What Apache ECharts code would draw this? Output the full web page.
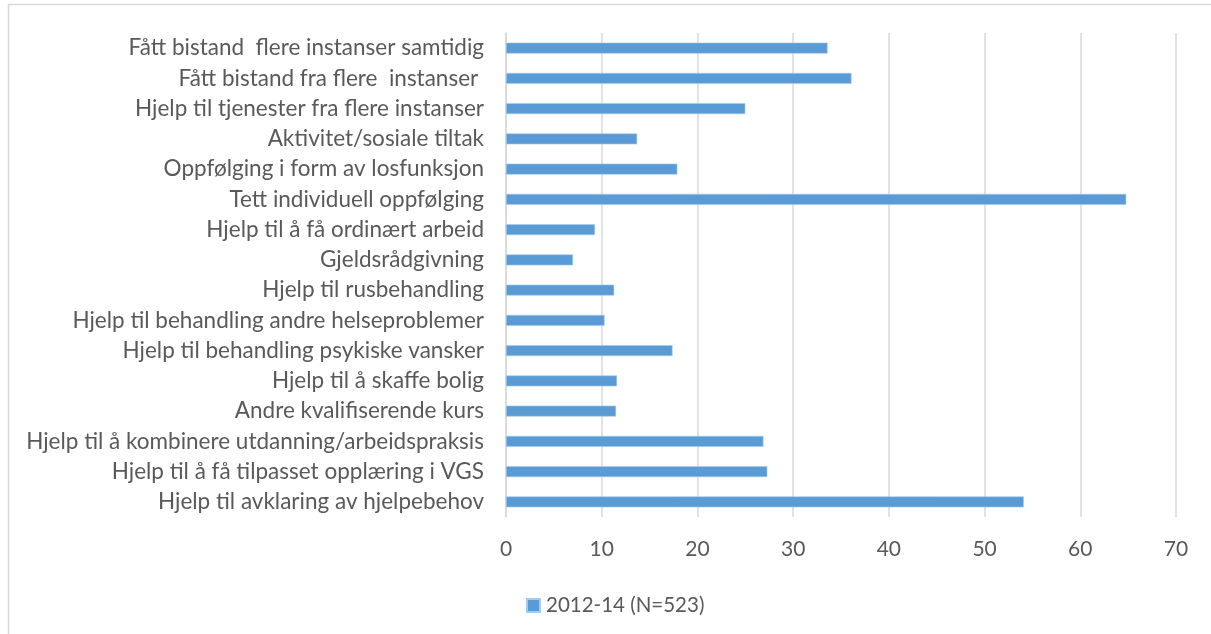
<!DOCTYPE html>
<html>
<head>
<meta charset="utf-8">
<script src="https://cdn.jsdelivr.net/npm/echarts@6/dist/echarts.min.js"></script>
<style>
html,body{margin:0;padding:0;background:#fff;}
#chart{width:1211px;height:634px;}
</style>
</head>
<body>
<div id="chart"></div>
<script>
// Categories listed bottom to top (as the category axis draws them)
const categories = [
  "Hjelp til avklaring av hjelpebehov",
  "Hjelp til å få tilpasset opplæring i VGS",
  "Hjelp til å kombinere utdanning/arbeidspraksis",
  "Andre kvalifiserende kurs",
  "Hjelp til å skaffe bolig",
  "Hjelp til behandling psykiske vansker",
  "Hjelp til behandling andre helseproblemer",
  "Hjelp til rusbehandling",
  "Gjeldsrådgivning",
  "Hjelp til å få ordinært arbeid",
  "Tett individuell oppfølging",
  "Oppfølging i form av losfunksjon",
  "Aktivitet/sosiale tiltak",
  "Hjelp til tjenester fra flere instanser",
  "Fått bistand fra flere  instanser ",
  "Fått bistand  flere instanser samtidig"
];
const seriesName = "2012-14 (N=523)";
const values = [54.1, 27.3, 26.9, 11.5, 11.6, 17.4, 10.3, 11.3, 7.0, 9.3, 64.8, 17.9, 13.7, 25.0, 36.1, 33.6];
const xTicks = [0, 10, 20, 30, 40, 50, 60, 70];

const chart = echarts.init(document.getElementById('chart'));
const font = "Lato, 'Open Sans', sans-serif";
chart.setOption({
  animation: false,
  backgroundColor: '#fff',
  graphic: [{
    type: 'rect',
    shape: {x: 8.5, y: 4.5, width: 1300, height: 700},
    style: {fill: 'none', stroke: '#d9d9d9', lineWidth: 1.5}
  }],
  grid: {left: 506, right: 35, top: 33, bottom: 117, containLabel: false},
  xAxis: {
    type: 'value',
    min: xTicks[0],
    max: xTicks[xTicks.length - 1],
    interval: 10,
    axisLine: {show: false},
    axisTick: {show: false},
    splitLine: {lineStyle: {color: '#d9d9d9', width: 1.5}},
    axisLabel: {color: '#595959', fontSize: 21, fontFamily: font, margin: 22}
  },
  yAxis: {
    type: 'category',
    data: categories,
    axisLine: {show: true, lineStyle: {color: '#d9d9d9', width: 1.5}},
    axisTick: {show: false},
    axisLabel: {color: '#595959', fontSize: 22.5, fontFamily: font, margin: 22}
  },
  legend: {
    show: true,
    left: 521,
    top: 590,
    itemWidth: 13,
    itemHeight: 13,
    itemGap: 4,
    icon: 'rect',
    textStyle: {color: '#595959', fontSize: 20.5, fontFamily: font, padding: [0, 0, 0, 1]},
    data: [seriesName]
  },
  series: [{
    name: seriesName,
    type: 'bar',
    data: values,
    barWidth: 11,
    itemStyle: {color: '#5b9bd5', borderColor: '#a9c9ea', borderWidth: 0.6}
  }]
});
</script>
</body>
</html>
